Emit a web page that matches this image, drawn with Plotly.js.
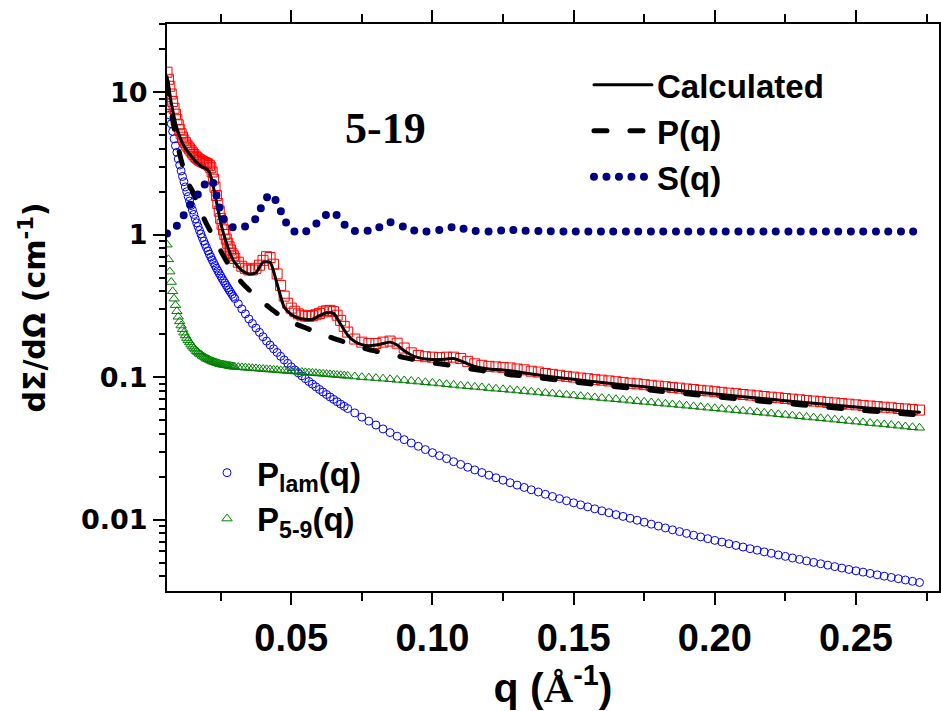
<!DOCTYPE html>
<html>
<head>
<meta charset="utf-8">
<script src="https://cdn.plot.ly/plotly-3.0.1.min.js"></script>
<style>
  html, body { margin: 0; padding: 0; background: #fff; }
  .js-line, .legendlines path { stroke-linecap: round; stroke-linejoin: round; }
</style>
</head>
<body>
<div id="chart" style="width:941px;height:711px;"></div>
<script>
// ---- data ----
const qData = [
  0.0060,0.0065,0.0070,0.0075,0.0080,0.0085,0.0090,0.0095,0.0100,0.0105,0.0110,0.0115,0.0120,0.0125,0.0130,0.0135,0.0140,0.0145,0.0150,0.0155,
  0.0160,0.0165,0.0170,0.0175,0.0180,0.0185,0.0190,0.0195,0.0200,0.0205,0.0210,0.0215,0.0220,0.0225,0.0230,0.0235,0.0240,0.0245,0.0250,0.0255,
  0.0260,0.0265,0.0270,0.0275,0.0280,0.0285,0.0290,0.0295,0.0300,
  0.03125,0.0325,0.03375,0.035,0.03625,0.0375,0.03875,0.040,0.04125,0.0425,0.04375,0.045,0.04625,0.0475,0.04875,0.050,
  0.05125,0.0525,0.05375,0.055,0.05625,0.0575,0.05875,0.060,0.06125,0.0625,0.06375,0.065,0.06625,0.0675,0.06875,0.070,
  0.0725,0.075,0.0775,0.080,0.0825,0.085,0.0875,0.090,0.0925,0.095,0.0975,0.100,0.1025,0.105,0.1075,0.110,
  0.1125,0.115,0.1175,0.120,0.1225,0.125,0.1275,0.130,0.1325,0.135,0.1375,0.140,0.1425,0.145,0.1475,0.150,0.1525,0.155,0.1575,0.160,0.1625,0.165,0.1675,0.170,
  0.1725,0.175,0.1775,0.180,0.1825,0.185,0.1875,0.190,0.1925,0.195,0.1975,0.200,0.2025,0.205,0.2075,0.210,0.2125,0.215,0.2175,0.220,0.2225,0.225,0.2275,0.230,
  0.2325,0.235,0.2375,0.240,0.2425,0.245,0.2475,0.250,0.2525,0.255,0.2575,0.260,0.2625,0.265,0.2675,0.270,0.2725];

// measured data (red open squares)
const expData = [
  13.8,12.3,11.0,9.7,8.6,7.7,7.0,6.4,5.9,5.45,5.1,4.83,4.6,4.42,4.25,4.12,4.0,3.87,3.75,3.65,
  3.55,3.47,3.4,3.35,3.3,3.26,3.22,3.19,3.15,3.12,3.05,2.95,2.75,2.45,2.15,1.88,1.65,1.46,1.30,1.18,
  1.08,1.0,0.93,0.87,0.82,0.78,0.74,0.71,0.68,
  0.64,0.60,0.58,0.565,0.565,0.58,0.61,0.66,0.70,0.69,0.62,0.53,0.44,0.37,0.33,0.305,
  0.29,0.278,0.272,0.268,0.267,0.27,0.274,0.28,0.287,0.292,0.294,0.288,0.272,0.25,0.227,0.207,
  0.185,0.176,0.172,0.172,0.176,0.179,0.173,0.16,0.148,0.142,0.139,0.138,0.137,0.138,0.138,0.135,
  0.129,0.124,0.121,0.119,0.118,0.117,0.116,0.114,0.1125,0.110,0.1085,0.106,0.1045,0.103,0.1012,0.100,0.0985,0.0975,0.096,0.0952,0.094,0.0928,0.0918,0.0906,
  0.0897,0.0885,0.0876,0.0865,0.0856,0.0846,0.0837,0.0826,0.0818,0.0808,0.0800,0.0790,0.0782,0.0772,0.0765,0.0755,0.0748,0.0739,0.0731,0.0723,0.0716,0.0708,0.0701,0.0693,
  0.0686,0.0679,0.0672,0.0665,0.0659,0.0652,0.0646,0.0639,0.0633,0.0627,0.0621,0.0615,0.0609,0.0603,0.0598,0.0592,0.0587];

// P_lam(q) (blue open circles)
const pLam = [
  9.5,8.05,6.9,6.0,5.3,4.7,4.2,3.78,3.4,3.08,2.8,2.56,2.35,2.16,2.0,1.85,1.72,1.60,1.49,1.385,
  1.29,1.21,1.14,1.07,1.01,0.953,0.90,0.853,0.81,0.768,0.73,0.696,0.665,0.635,0.607,0.581,0.557,0.534,0.513,0.493,
  0.474,0.457,0.440,0.424,0.409,0.395,0.381,0.368,0.356,
  0.327,0.301,0.278,0.256,0.238,0.221,0.206,0.192,0.179,0.168,0.158,0.149,0.140,0.132,0.125,0.118,
  0.1123,0.107,0.102,0.0975,0.0932,0.0892,0.0855,0.0819,0.0786,0.0755,0.0726,0.0698,0.0672,0.0647,0.0624,0.0602,
  0.0561,0.0524,0.0491,0.0461,0.0433,0.0408,0.0385,0.0364,0.0345,0.0327,0.0310,0.0295,0.0281,0.0268,0.0255,0.0244,
  0.0233,0.02232,0.02139,0.0205,0.01967,0.0189,0.01816,0.01747,0.01682,0.0162,0.01562,0.01506,0.01454,0.01404,0.01357,0.01312,0.0127,0.01229,0.0119,0.01153,0.01118,0.01084,0.01053,0.01022,
  0.0099,0.00959,0.00929,0.00901,0.00874,0.00848,0.00824,0.0080,0.00777,0.00756,0.00735,0.00715,0.00696,0.00677,0.00659,0.00642,0.00625,0.0061,0.00594,0.0058,0.00565,0.00552,0.00538,0.00526,
  0.00513,0.00501,0.0049,0.00479,0.00468,0.00457,0.00447,0.00437,0.00428,0.00419,0.0041,0.00401,0.00393,0.00385,0.00377,0.00369,0.00362];

// P_5-9(q) (green open triangles)
const p59 = [
  0.85,0.67,0.55,0.465,0.40,0.355,0.32,0.29,0.265,0.246,0.230,0.217,0.205,0.196,0.188,0.181,0.175,0.169,0.164,0.160,
  0.156,0.152,0.149,0.146,0.144,0.141,0.139,0.137,0.135,0.1335,0.132,0.1305,0.129,0.128,0.127,0.126,0.125,0.124,0.123,0.1225,
  0.122,0.1215,0.121,0.1205,0.120,0.1195,0.119,0.1185,0.118,
  0.1175,0.117,0.1165,0.116,0.1155,0.115,0.1145,0.114,0.1135,0.113,0.1125,0.112,0.1115,0.111,0.1105,0.110,
  0.1095,0.109,0.1085,0.108,0.1075,0.107,0.1065,0.106,0.1055,0.105,0.1045,0.104,0.1035,0.103,0.1025,0.102,
  0.101,0.100,0.0992,0.0984,0.0975,0.0966,0.0957,0.0948,0.0939,0.0930,0.0920,0.0911,0.0901,0.0891,0.0881,0.0871,
  0.0863,0.0854,0.0846,0.0837,0.0829,0.0821,0.0813,0.0805,0.0797,0.0789,0.0781,0.0773,0.0766,0.0758,0.0750,0.0743,0.0735,0.0728,0.0720,0.0713,0.0706,0.0699,0.0692,0.0684,
  0.0677,0.0670,0.0664,0.0657,0.0650,0.0643,0.0637,0.0630,0.0623,0.0617,0.0610,0.0604,0.0598,0.0591,0.0585,0.0579,0.0573,0.0567,0.0561,0.0555,0.0549,0.0543,0.0537,0.0531,
  0.0525,0.0520,0.0514,0.0509,0.0503,0.0498,0.0492,0.0487,0.0481,0.0476,0.0471,0.0466,0.0461,0.0456,0.0450,0.0445,0.0441];

// model curves
const qFit = [0.006,0.007,0.008,0.009,0.010,0.011,0.012,0.013,0.014,0.015,0.016,0.017,0.018,0.019,0.020,0.021,0.022,0.023,0.024,0.025,0.026,0.027,0.028,0.029,0.030,
  0.0325,0.035,0.0375,0.040,0.0425,0.045,0.0475,0.050,0.0525,0.055,0.0575,0.060,0.0625,0.065,0.0675,0.070,0.0725,0.075,0.0775,0.080,0.0825,0.085,0.0875,0.090,0.0925,0.095,0.0975,0.100,
  0.1025,0.105,0.1075,0.110,0.1125,0.115,0.1175,0.120,0.1225,0.125,0.1275,0.130,
  0.14,0.15,0.16,0.17,0.18,0.19,0.20,0.21,0.22,0.23,0.24,0.25,0.26,0.27,0.2725];

const calcFit = [12.8,9.6,7.5,6.1,5.2,4.6,4.2,3.9,3.68,3.48,3.28,3.15,3.02,2.95,2.90,2.75,2.35,1.90,1.52,1.22,1.02,0.88,0.77,0.69,0.635,
  0.56,0.53,0.54,0.64,0.64,0.45,0.31,0.275,0.26,0.255,0.255,0.27,0.283,0.28,0.235,0.197,0.178,0.169,0.166,0.168,0.172,0.176,0.168,0.153,0.143,0.137,0.134,0.133,
  0.133,0.134,0.135,0.130,0.124,0.119,0.116,0.114,0.113,0.112,0.111,0.109,
  0.102,0.0965,0.0918,0.0875,0.0835,0.0797,0.0762,0.0729,0.0698,0.0669,0.0642,0.0617,0.0594,0.0572,0.0567];

const pqFit = [12.0,8.6,6.4,5.0,4.05,3.35,2.85,2.48,2.20,2.02,1.82,1.62,1.45,1.31,1.19,1.09,1.00,0.92,0.85,0.77,0.71,0.655,0.607,0.567,0.532,
  0.46,0.41,0.37,0.335,0.305,0.28,0.257,0.242,0.232,0.222,0.212,0.203,0.195,0.187,0.180,0.173,0.167,0.161,0.156,0.152,0.148,0.144,0.141,0.137,0.134,0.131,0.128,0.126,
  0.124,0.122,0.120,0.117,0.115,0.113,0.111,0.109,0.107,0.106,0.104,0.103,
  0.0976,0.0924,0.0878,0.0837,0.0799,0.0763,0.0729,0.0698,0.0668,0.0640,0.0614,0.0590,0.0568,0.0547,0.0543];

const sqFit = [1.02,1.05,1.09,1.13,1.18,1.27,1.38,1.50,1.60,1.70,1.80,1.92,2.06,2.20,2.33,2.43,2.40,2.07,1.72,1.45,1.30,1.21,1.16,1.13,1.12,
  1.12,1.17,1.30,1.65,1.92,1.68,1.28,1.08,1.03,1.05,1.12,1.26,1.38,1.43,1.27,1.11,1.06,1.05,1.07,1.10,1.16,1.22,1.19,1.13,1.08,1.06,1.05,1.06,
  1.08,1.11,1.13,1.11,1.08,1.06,1.05,1.05,1.06,1.07,1.08,1.07,
  1.06,1.05,1.05,1.05,1.05,1.05,1.05,1.05,1.05,1.05,1.05,1.05,1.05,1.05,1.05];

const yTickVals = [0.01, 0.1, 1, 10];
const yTickText = ['0.01', '0.1', '1', '10'];
const sampleLabel = '5-19';
const seriesNames = ['Calculated', 'P(q)', 'S(q)', 'P<sub>lam</sub>(q)', 'P<sub>5-9</sub>(q)'];

// ---- traces ----
const traces = [
  { x: qData, y: pLam, type: 'scatter', mode: 'markers', name: seriesNames[3], legend: 'legend2', legendrank: 1,
    marker: { symbol: 'circle-open', size: 8, color: '#0000ff', line: { width: 1, color: '#0000ff' } } },
  { x: qData, y: p59, type: 'scatter', mode: 'markers', name: seriesNames[4], legend: 'legend2', legendrank: 2,
    marker: { symbol: 'triangle-up-open', size: 9, color: '#008000', line: { width: 1, color: '#008000' } } },
  { x: qData, y: expData, type: 'scatter', mode: 'markers', name: 'data', showlegend: false,
    marker: { symbol: 'square-open', size: 10, color: '#ff0000', line: { width: 1, color: '#ff0000' } } },
  { x: qFit, y: pqFit, type: 'scatter', mode: 'lines', name: seriesNames[1], legendrank: 2,
    line: { color: '#000000', width: 5, dash: '13px,23px', shape: 'spline', smoothing: 0.6 } },
  { x: qFit, y: calcFit, type: 'scatter', mode: 'lines', name: seriesNames[0], legendrank: 1,
    line: { color: '#000000', width: 3, shape: 'spline', smoothing: 0.6 } },
  { x: qFit, y: sqFit, type: 'scatter', mode: 'lines', name: seriesNames[2], legendrank: 3,
    line: { color: '#000080', width: 8, dash: '0px,12.5px', shape: 'spline', smoothing: 0.6 } }
];

const boldSans = 'Liberation Sans, Arial, sans-serif';

const layout = {
  width: 941, height: 711,
  margin: { l: 167, r: 2, t: 24, b: 120 },
  paper_bgcolor: '#ffffff', plot_bgcolor: '#ffffff',
  showlegend: true,
  xaxis: {
    range: [0.006, 0.2794],
    showgrid: false, zeroline: false,
    showline: true, linecolor: '#000', linewidth: 2, mirror: 'ticks',
    ticks: 'outside', ticklen: 12, tickwidth: 2, tickcolor: '#000',
    tick0: 0, dtick: 0.05, tickformat: '.2f',
    tickfont: { family: 'Liberation Sans Narrow, ' + boldSans, size: 38, weight: 'bold', color: '#000' },
    minor: { tick0: 0, dtick: 0.025, ticks: 'outside', ticklen: 8, tickwidth: 2, tickcolor: '#000' },
    title: { text: 'q (<span style="font-family:Liberation Serif">Å</span><sup>-1</sup>)',
             font: { family: boldSans, size: 41, weight: 'bold', color: '#000' }, standoff: 8 }
  },
  yaxis: {
    type: 'log',
    range: [-2.501, 1.478],
    showgrid: false, zeroline: false,
    showline: true, linecolor: '#000', linewidth: 2, mirror: 'ticks',
    ticks: 'outside', ticklen: 12, tickwidth: 2, tickcolor: '#000',
    tickmode: 'array', tickvals: yTickVals, ticktext: yTickText,
    tickfont: { family: 'DejaVu Sans, ' + boldSans, size: 27, weight: 'bold', color: '#000' },
    minor: { dtick: 'D1', ticks: 'outside', ticklen: 6, tickwidth: 2, tickcolor: '#000' },
    title: { text: 'dΣ/dΩ (cm<sup>-1</sup>)',
             font: { family: 'DejaVu Sans, ' + boldSans, size: 30, weight: 'bold', color: '#000' }, standoff: 26 }
  },
  legend: {
    x: 0.5466, xanchor: 'left', y: 0.942, yanchor: 'top',
    bgcolor: 'rgba(0,0,0,0)', borderwidth: 0, itemwidth: 58,
    font: { family: boldSans, size: 33, weight: 'bold', color: '#000' },
    traceorder: 'normal'
  },
  legend2: {
    x: 0.0389, xanchor: 'left', y: 0.258, yanchor: 'top',
    bgcolor: 'rgba(0,0,0,0)', borderwidth: 0, itemwidth: 50,
    font: { family: boldSans, size: 33, weight: 'bold', color: '#000' },
    traceorder: 'normal'
  },
  annotations: [{
    x: 0.0834, y: 0.745, xref: 'x', yref: 'y',
    text: sampleLabel, showarrow: false,
    font: { family: 'Liberation Serif, Times New Roman, serif', size: 44, weight: 'bold', color: '#000' }
  }]
};

Plotly.newPlot('chart', traces, layout, { displayModeBar: false, staticPlot: true });
</script>
</body>
</html>
